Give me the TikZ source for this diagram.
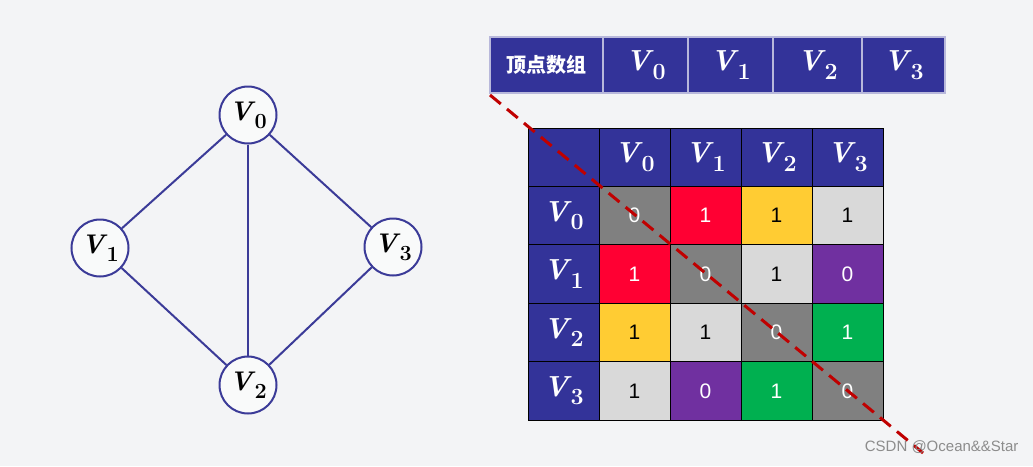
\documentclass[tikz,border=0pt]{standalone}
\usepackage{fontspec}
\setsansfont{Liberation Sans}
\newfontfamily\cjk{Noto Sans CJK SC}
\usetikzlibrary{positioning}

\definecolor{bgray}{HTML}{F3F4F6}
\definecolor{navy}{HTML}{333399}
\definecolor{edgeblue}{HTML}{3B3B98}
\definecolor{cgray}{HTML}{808080}
\definecolor{cred}{HTML}{FF0033}
\definecolor{cyellow}{HTML}{FFCC33}
\definecolor{clight}{HTML}{D9D9D9}
\definecolor{cpurple}{HTML}{7030A0}
\definecolor{cgreen}{HTML}{00B050}
\definecolor{dashred}{HTML}{C00000}

\newcommand{\vlabel}[1]{\textbf{\textit{V}}\kern-1pt\raisebox{-0.3em}{\scalebox{0.8}{\textbf{#1}}}}

\tikzstyle{vertex} = [circle, minimum size=57pt, inner sep=0pt,
  draw=edgeblue, line width=2pt, fill=white!50!bgray,
  font=\fontsize{27}{27}\selectfont]
\tikzstyle{edge} = [draw=edgeblue, line width=2pt]
\tikzstyle{arrcell} = [rectangle, minimum height=56pt,
  draw=navy!35!white, line width=1.2pt, fill=navy, text=white,
  font=\fontsize{29}{29}\selectfont]
\tikzstyle{head} = [rectangle, minimum width=71pt, minimum height=58.4pt,
  draw=black, line width=0.8pt, fill=navy, text=white,
  font=\fontsize{29}{29}\selectfont]
\tikzstyle{cell} = [rectangle, minimum width=71pt, minimum height=58.4pt,
  draw=black, line width=0.8pt,
  font=\sffamily\fontsize{21}{21}\selectfont]
\tikzstyle{diag} = [draw=dashred, line width=3pt, dash pattern=on 14pt off 8pt]

\begin{document}
\begin{tikzpicture}[x=1pt, y=-1pt]

\fill[bgray] (0,0) rectangle (1033,466);
\useasboundingbox (0,0) rectangle (1033,466);

%% ---- GRAPH ----
\node (v0) [vertex] at (248, 115) {\vlabel{0}};
\node (v1) [vertex] at (100, 248) {\vlabel{1}};
\node (v2) [vertex] at (248, 385) {\vlabel{2}};
\node (v3) [vertex] at (393, 247) {\vlabel{3}};

\draw[edge] (v0) -- (v1);
\draw[edge] (v0) -- (v2);
\draw[edge] (v0) -- (v3);
\draw[edge] (v1) -- (v2);
\draw[edge] (v2) -- (v3);

%% ---- VERTEX ARRAY ----
\node (a_t) [arrcell, minimum width=113pt] at (546.5, 65)
  {\cjk\bfseries\fontsize{20}{20}\selectfont 顶点数组};
\node (a_0) [arrcell, minimum width=85pt] at (645.5, 65) {\vlabel{0}};
\node (a_1) [arrcell, minimum width=85pt] at (730.5, 65) {\vlabel{1}};
\node (a_2) [arrcell, minimum width=89pt] at (817.5, 65) {\vlabel{2}};
\node (a_3) [arrcell, minimum width=83pt] at (903.5, 65) {\vlabel{3}};

%%=============================================================
%% ADJACENCY MATRIX
%%  header row and header column in navy
%%  diagonal in gray, one colour per symmetric pair
%%=============================================================
\node (m_c)  [head] at (563.5, 157.2) {};
\node (m_h0) [head] at (634.5, 157.2) {\vlabel{0}};
\node (m_h1) [head] at (705.5, 157.2) {\vlabel{1}};
\node (m_h2) [head] at (776.5, 157.2) {\vlabel{2}};
\node (m_h3) [head] at (847.5, 157.2) {\vlabel{3}};

\node (m_r0) [head] at (563.5, 215.6) {\vlabel{0}};
\node (m_r1) [head] at (563.5, 274.0) {\vlabel{1}};
\node (m_r2) [head] at (563.5, 332.4) {\vlabel{2}};
\node (m_r3) [head] at (563.5, 390.8) {\vlabel{3}};

\node (m00) [cell, fill=cgray, text=white]   at (634.5, 215.6) {0};
\node (m01) [cell, fill=cred, text=white]    at (705.5, 215.6) {1};
\node (m02) [cell, fill=cyellow]             at (776.5, 215.6) {1};
\node (m03) [cell, fill=clight]              at (847.5, 215.6) {1};

\node (m10) [cell, fill=cred, text=white]    at (634.5, 274.0) {1};
\node (m11) [cell, fill=cgray, text=white]   at (705.5, 274.0) {0};
\node (m12) [cell, fill=clight]              at (776.5, 274.0) {1};
\node (m13) [cell, fill=cpurple, text=white] at (847.5, 274.0) {0};

\node (m20) [cell, fill=cyellow]             at (634.5, 332.4) {1};
\node (m21) [cell, fill=clight]              at (705.5, 332.4) {1};
\node (m22) [cell, fill=cgray, text=white]   at (776.5, 332.4) {0};
\node (m23) [cell, fill=cgreen, text=white]  at (847.5, 332.4) {1};

\node (m30) [cell, fill=clight]              at (634.5, 390.8) {1};
\node (m31) [cell, fill=cpurple, text=white] at (705.5, 390.8) {0};
\node (m32) [cell, fill=cgreen, text=white]  at (776.5, 390.8) {1};
\node (m33) [cell, fill=cgray, text=white]   at (847.5, 390.8) {0};

%% ---- DIAGONAL ----
\coordinate (d_start) at (490, 95);
\coordinate (d_end)   at (923, 453);
\draw[diag] (d_start) -- (d_end);

%% ---- WATERMARK ----
\node (mark) [anchor=east, text=black!45, font=\sffamily\fontsize{15}{15}\selectfont]
  at (1022, 447) {CSDN @Ocean\&\&Star};

\end{tikzpicture}
\end{document}
